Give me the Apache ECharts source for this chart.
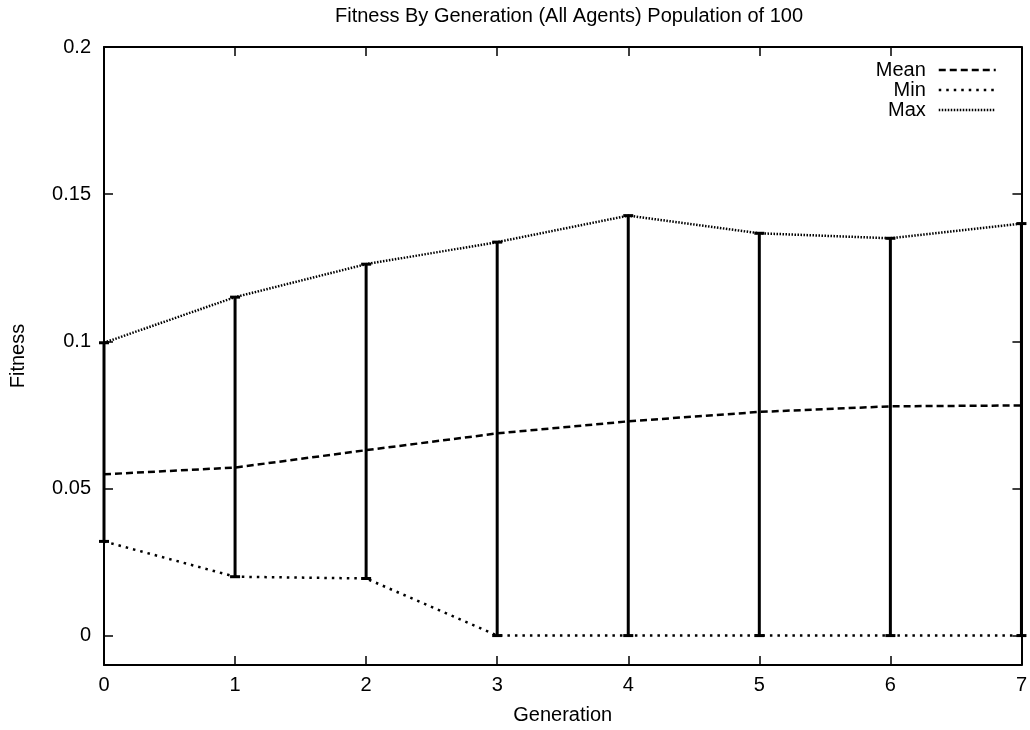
<!DOCTYPE html>
<html>
<head>
<meta charset="utf-8">
<script src="https://cdn.jsdelivr.net/npm/echarts@6/dist/echarts.min.js"></script>
<style>
  html, body { margin:0; padding:0; background:#fff; }
  #chart { width:1030px; height:730px; }
</style>
</head>
<body>
<div id="chart"></div>
<script>
// ====== data ======
const generations = [0, 1, 2, 3, 4, 5, 6, 7];
const meanFit = [0.0548, 0.0571, 0.0630, 0.0687, 0.0728, 0.0760, 0.0779, 0.0782];
const minFit  = [0.0320, 0.0200, 0.0194, 0, 0, 0, 0, 0];
const maxFit  = [0.0995, 0.1150, 0.1262, 0.1337, 0.1427, 0.1367, 0.1350, 0.1400];
const yTicks  = [0, 0.05, 0.1, 0.15, 0.2];

const FONT = 'Liberation Sans, Arial, sans-serif';
const FS = 20;

const pairs = (ys) => generations.map((g, i) => [g, ys[i]]);

function errBar(params, api){
  const x = api.value(0);
  const lo = api.coord([x, api.value(1)]);
  const hi = api.coord([x, api.value(2)]);
  const cap = 5;
  const st = { stroke:'#000', lineWidth:3 };
  return {
    type:'group',
    children:[
      { type:'line', shape:{ x1:lo[0], y1:lo[1], x2:hi[0], y2:hi[1] }, style:st },
      { type:'line', shape:{ x1:lo[0]-cap, y1:lo[1], x2:lo[0]+cap, y2:lo[1] }, style:st },
      { type:'line', shape:{ x1:hi[0]-cap, y1:hi[1], x2:hi[0]+cap, y2:hi[1] }, style:st },
    ]
  };
}

const chart = echarts.init(document.getElementById('chart'));
const tickStyle = { show:true, inside:true, length:9, lineStyle:{ color:'#000', width:1.5 } };
const lineAx = { show:true, onZero:false, lineStyle:{ color:'#000', width:2 } };

chart.setOption({
  animation:false,
  backgroundColor:'#fff',
  textStyle:{ fontFamily:FONT },
  title:{
    text:'Fitness By Generation (All Agents) Population of 100',
    left:564, top:1, textAlign:'center',
    textStyle:{ fontFamily:FONT, fontSize:FS, fontWeight:'normal', color:'#000' }
  },
  legend:{
    orient:'vertical', right:28, top:55, align:'right',
    itemWidth:57, itemHeight:18, itemGap:0,
    textStyle:{ fontFamily:FONT, fontSize:FS, color:'#000', padding:[0, 8, 0, 0] },
    itemStyle:{ opacity:0 },
    lineStyle:{ width:2.5 },
    data:['Mean', 'Min', 'Max']
  },
  grid:{ left:104, right:6, top:47, bottom:65 },
  xAxis:[
    {
      type:'value', min:0, max:7, interval:1,
      name:'Generation', nameLocation:'middle', nameGap:40,
      nameTextStyle:{ fontFamily:FONT, fontSize:FS, color:'#000' },
      axisLine:lineAx, axisTick:tickStyle,
      axisLabel:{ fontFamily:FONT, fontSize:FS, color:'#000', margin:10 },
      splitLine:{ show:false }
    },
    {
      type:'value', position:'top', min:0, max:7, interval:1,
      axisLine:lineAx, axisTick:tickStyle,
      axisLabel:{ show:false }, splitLine:{ show:false }
    }
  ],
  yAxis:[
    {
      type:'value', min:-0.01, max:0.2,
      name:'Fitness', nameLocation:'middle', nameGap:76, nameRotate:90,
      nameTextStyle:{ fontFamily:FONT, fontSize:FS, color:'#000' },
      axisLine:lineAx,
      axisTick:Object.assign({ customValues:yTicks }, tickStyle),
      axisLabel:{ customValues:yTicks, fontFamily:FONT, fontSize:FS, color:'#000', margin:13 },
      splitLine:{ show:false }
    },
    {
      type:'value', position:'right', min:-0.01, max:0.2,
      axisLine:lineAx,
      axisTick:Object.assign({ customValues:yTicks }, tickStyle),
      axisLabel:{ show:false }, splitLine:{ show:false }
    }
  ],
  series:[
    {
      name:'errors', type:'custom', renderItem:errBar, z:3,
      data:generations.map((g, i) => [g, minFit[i], maxFit[i]])
    },
    {
      name:'Mean', type:'line', data:pairs(meanFit), showSymbol:false, symbol:'none',
      color:'#000', lineStyle:{ color:'#000', width:2.5, type:[7, 4] }, z:4
    },
    {
      name:'Min', type:'line', data:pairs(minFit), showSymbol:false, symbol:'none',
      color:'#000', lineStyle:{ color:'#000', width:2.5, type:[2.5, 5] }, z:4
    },
    {
      name:'Max', type:'line', data:pairs(maxFit), showSymbol:false, symbol:'none',
      color:'#000', lineStyle:{ color:'#000', width:2.5, type:[1.5, 1.5] }, z:4
    }
  ]
});
</script>
</body>
</html>
